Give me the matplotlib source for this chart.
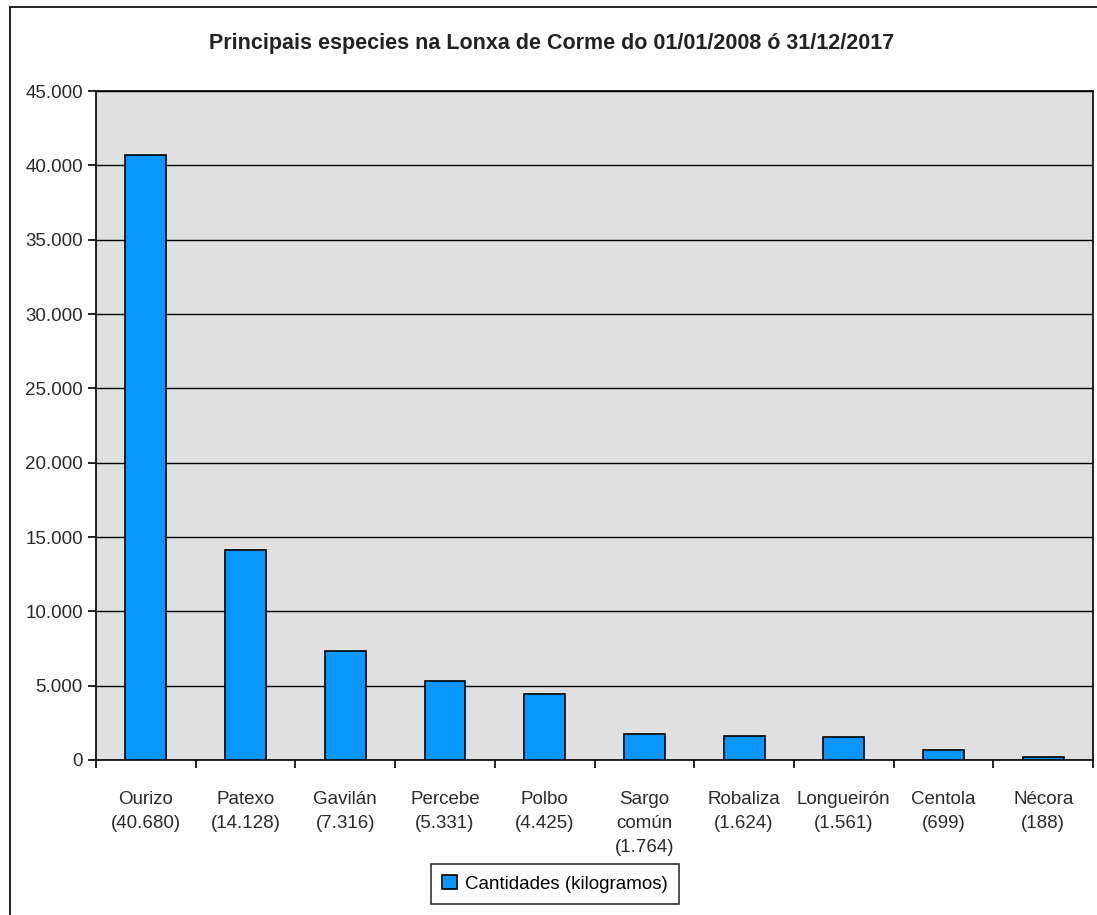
import numpy as np
import matplotlib.pyplot as plt
from matplotlib.lines import Line2D
from matplotlib.ticker import FuncFormatter, FixedLocator

species = ["Ourizo", "Patexo", "Gavilán", "Percebe", "Polbo", "Sargo\ncomún",
           "Robaliza", "Longueirón", "Centola", "Nécora"]
kilos = [40680, 14128, 7316, 5331, 4425, 1764, 1624, 1561, 699, 188]
series_name = "Cantidades (kilogramos)"
title = "Principais especies na Lonxa de Corme do 01/01/2008 ó 31/12/2017"


def miles(v):
    return f"{int(v):,}".replace(",", ".")


plt.rcParams['font.family'] = ['Liberation Sans', 'DejaVu Sans']

fig = plt.figure(figsize=(10.97, 9.15), dpi=100)
ax = fig.add_axes([0.0875, 0.1694, 0.9089, 0.7311])
ax.set_facecolor("#e0e0e0")

x = np.arange(len(species))
ax.bar(x, kilos, width=0.41, color="#0a96ff", edgecolor="black", linewidth=1.2,
       label=series_name, zorder=3)

ax.set_xlim(-0.5, len(species) - 0.5)
ax.set_ylim(0, 45000)
ax.set_yticks(np.arange(0, 45001, 5000))
ax.yaxis.set_major_formatter(FuncFormatter(lambda v, p: miles(v)))
ax.grid(axis="y", color="black", linewidth=1.0, zorder=1)

labels = [f"{s}\n({miles(k)})" for s, k in zip(species, kilos)]
ax.xaxis.set_major_locator(FixedLocator(np.arange(-0.5, len(species), 1.0)))
ax.set_xticklabels([])
ax.xaxis.set_minor_locator(FixedLocator(x))
ax.set_xticklabels(labels, minor=True, linespacing=1.55)
ax.tick_params(axis="x", which="major", length=6, width=1.2, direction="out")
ax.tick_params(axis="x", which="minor", length=0, pad=22, labelsize=13.5,
               labelcolor="#2a2a2a")
ax.tick_params(axis="y", length=6, width=1.2, labelsize=13.5, labelcolor="#2a2a2a")

for side in ["left", "right", "top", "bottom"]:
    ax.spines[side].set_linewidth(1.2)
    ax.spines[side].set_color("black")

fig.text(0.503, 0.952, title, ha="center", va="center", fontsize=15.5,
         fontweight="bold", color="#222222")

leg = ax.legend(loc="center", bbox_to_anchor=(0.506, 0.0338), bbox_transform=fig.transFigure,
                fontsize=13.5, frameon=True, fancybox=False, edgecolor="black",
                handlelength=0.75, handleheight=0.75, handletextpad=0.45, borderpad=0.6)
leg.get_frame().set_linewidth(1.2)

# outer frame of the chart
fig.add_artist(Line2D([0.0095, 0.0095], [0.0, 0.9925], color="black", linewidth=1.2,
                      transform=fig.transFigure))
fig.add_artist(Line2D([0.0095, 1.0], [0.9925, 0.9925], color="black", linewidth=1.2,
                      transform=fig.transFigure))

fig.savefig("out.png", dpi=100, facecolor="white")
